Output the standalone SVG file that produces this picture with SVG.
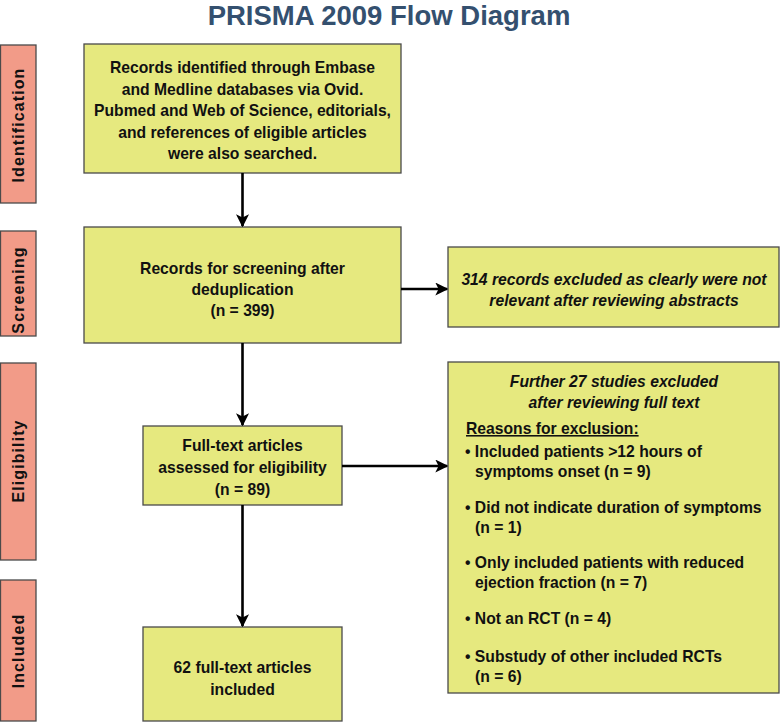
<svg xmlns="http://www.w3.org/2000/svg" width="780" height="723" viewBox="0 0 780 723">
<style>
.box{fill:#e6e97f;stroke:#4a4a4a;stroke-width:1.3}
.side{fill:#f29b88;stroke:#4a4a4a;stroke-width:1.3}
.t{font-family:"Liberation Sans",Arial,sans-serif;font-weight:bold;font-size:15.7px;fill:#111}
.c{text-anchor:middle}
.i{font-style:italic}
.title{font-family:"Liberation Sans",Arial,sans-serif;font-weight:bold;font-size:27.5px;fill:#34506f;text-anchor:middle}
.lab{font-family:"Liberation Sans",Arial,sans-serif;font-weight:bold;font-size:16px;letter-spacing:1.1px;fill:#111;text-anchor:middle}
.conn{stroke:#000;stroke-width:2.6;fill:none;marker-end:url(#ah)}
</style>
<defs>
<marker id="ah" viewBox="0 0 10 10" refX="9" refY="5" markerWidth="5" markerHeight="5" orient="auto" markerUnits="strokeWidth">
<path d="M0,0 L10,5 L0,10 L2.5,5 Z" fill="#000"/>
</marker>
</defs>
<rect width="780" height="723" fill="#fff"/>
<text class="title" x="389" y="25">PRISMA 2009 Flow Diagram</text>

<g id="lab-identification"><rect class="side" x="0.5" y="45" width="35.5" height="158"/><text class="lab" transform="translate(24,125) rotate(-90)">Identification</text></g>
<g id="lab-screening"><rect class="side" x="0.5" y="231" width="35.5" height="105"/><text class="lab" transform="translate(24,290) rotate(-90)">Screening</text></g>
<g id="lab-eligibility"><rect class="side" x="0.5" y="363" width="35.5" height="197"/><text class="lab" transform="translate(24,461) rotate(-90)">Eligibility</text></g>
<g id="lab-included"><rect class="side" x="0.5" y="580" width="35.5" height="141"/><text class="lab" transform="translate(24,651) rotate(-90)">Included</text></g>

<g id="n-identified"><rect class="box" x="84" y="44" width="317" height="129"/>
<text class="t c" x="242.5" y="73">Records identified through Embase</text>
<text class="t c" x="242.5" y="94.5">and Medline databases via Ovid.</text>
<text class="t c" x="242.5" y="116">Pubmed and Web of Science, editorials,</text>
<text class="t c" x="242.5" y="137.5">and references of eligible articles</text>
<text class="t c" x="242.5" y="159">were also searched.</text></g>

<g id="n-screening"><rect class="box" x="84" y="227" width="317" height="116"/>
<text class="t c" x="242.5" y="274">Records for screening after</text>
<text class="t c" x="242.5" y="295">deduplication</text>
<text class="t c" x="242.5" y="316">(n = 399)</text></g>

<g id="n-excluded1"><rect class="box" x="448" y="247" width="331" height="80"/>
<text class="t c i" x="614" y="285">314 records excluded as clearly were not</text>
<text class="t c i" x="614" y="305.5">relevant after reviewing abstracts</text></g>

<g id="n-fulltext"><rect class="box" x="143" y="426" width="199" height="79"/>
<text class="t c" x="242.5" y="451">Full-text articles</text>
<text class="t c" x="242.5" y="473">assessed for eligibility</text>
<text class="t c" x="242.5" y="494.5">(n = 89)</text></g>

<g id="n-excluded2"><rect class="box" x="448" y="362" width="331" height="331"/>
<text class="t c i" x="614" y="387">Further 27 studies excluded</text>
<text class="t c i" x="614" y="408">after reviewing full text</text>
<text class="t" x="466" y="434" text-decoration="underline">Reasons for exclusion:</text>
<text class="t" x="465" y="457">• Included patients &gt;12 hours of</text>
<text class="t" x="475" y="477">symptoms onset (n = 9)</text>
<text class="t" x="465" y="513">• Did not indicate duration of symptoms</text>
<text class="t" x="475" y="533">(n = 1)</text>
<text class="t" x="465" y="568">• Only included patients with reduced</text>
<text class="t" x="475" y="588">ejection fraction (n = 7)</text>
<text class="t" x="465" y="624">• Not an RCT (n = 4)</text>
<text class="t" x="465" y="662">• Substudy of other included RCTs</text>
<text class="t" x="475" y="682">(n = 6)</text></g>

<g id="n-included"><rect class="box" x="143" y="627" width="199" height="94"/>
<text class="t c" x="242.5" y="673">62 full-text articles</text>
<text class="t c" x="242.5" y="695">included</text></g>

<g id="connectors">
<line class="conn" x1="242.5" y1="173" x2="242.5" y2="226"/>
<line class="conn" x1="401" y1="289" x2="447" y2="289"/>
<line class="conn" x1="242.5" y1="343" x2="242.5" y2="425"/>
<line class="conn" x1="342" y1="466" x2="447" y2="466"/>
<line class="conn" x1="242.5" y1="505" x2="242.5" y2="626"/>
</g>
</svg>
